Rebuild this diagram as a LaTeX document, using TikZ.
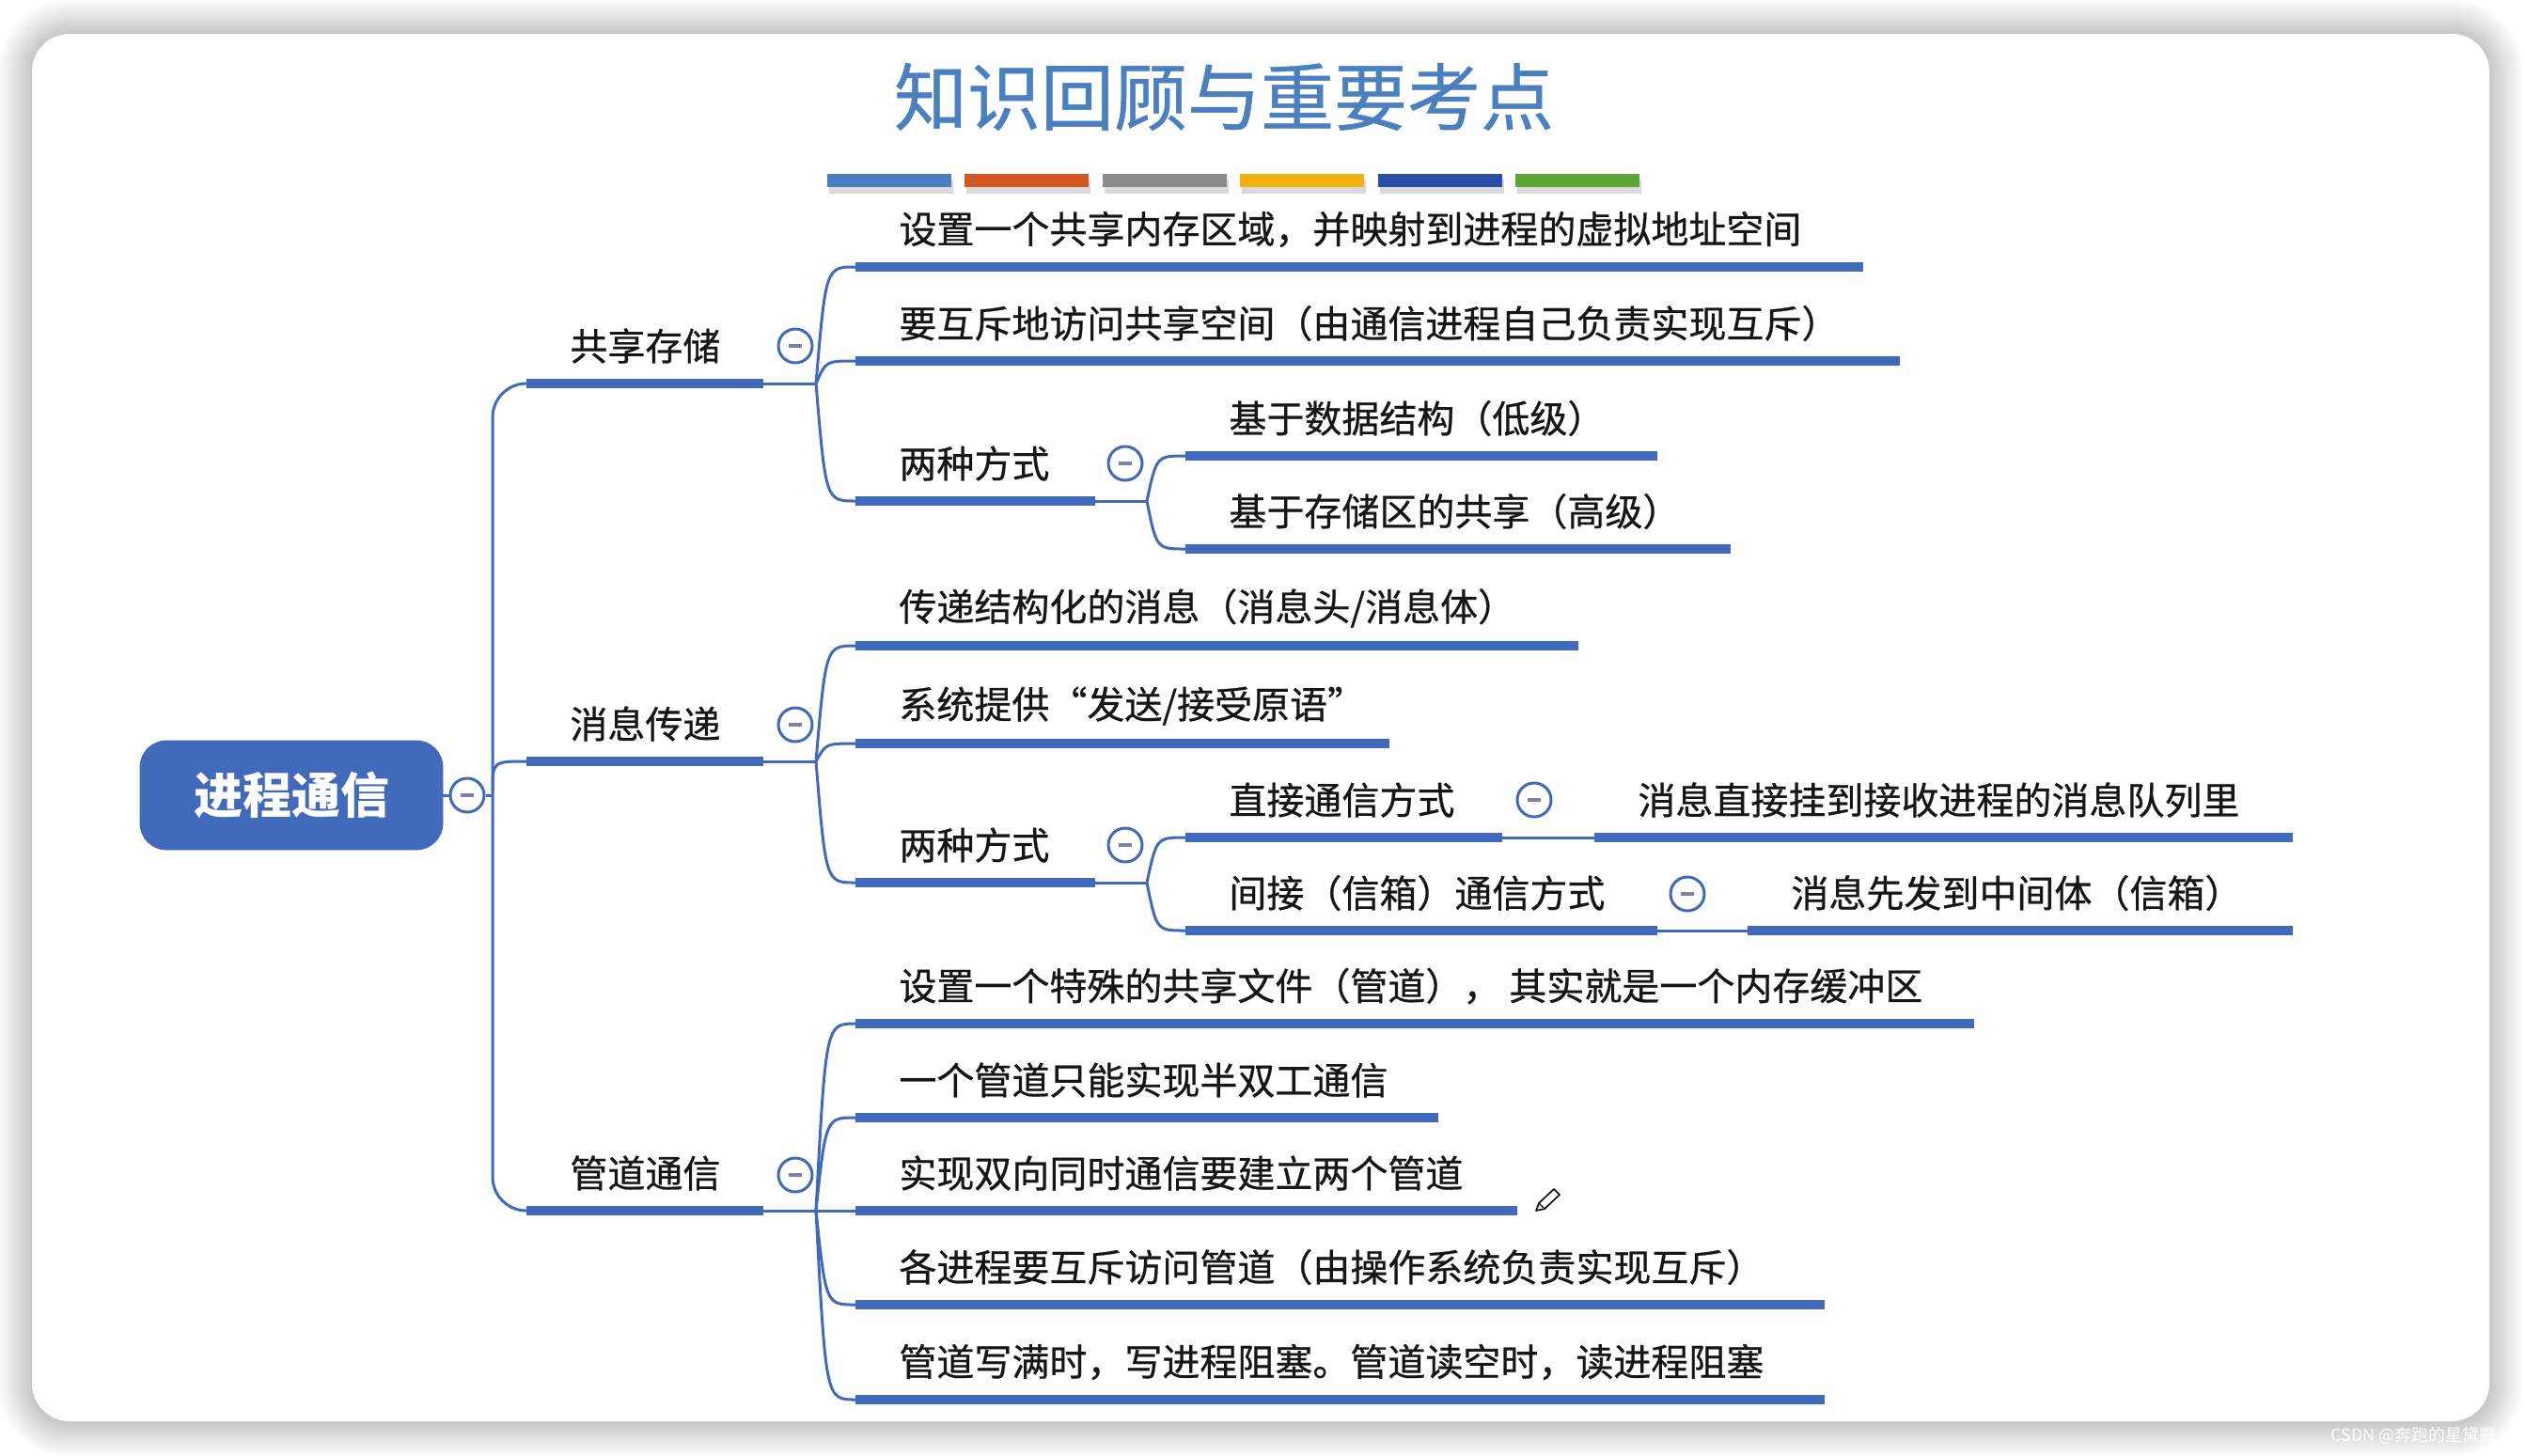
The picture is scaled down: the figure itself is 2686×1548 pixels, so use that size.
\documentclass[tikz,border=0pt]{standalone}
\usepackage{fontspec}
\newfontfamily\cjk{Noto Sans CJK SC}
\newfontfamily\cjkm{Noto Sans CJK SC}[FakeBold=0.6]
\usetikzlibrary{calc}
\definecolor{mb}{RGB}{66,106,186}
\definecolor{ttl}{RGB}{74,127,192}
\definecolor{txt}{RGB}{22,22,22}
\definecolor{minuscol}{RGB}{128,128,165}
\definecolor{cbA}{RGB}{74,126,193}
\definecolor{cbB}{RGB}{214,86,31}
\definecolor{cbC}{RGB}{140,140,140}
\definecolor{cbD}{RGB}{242,177,15}
\definecolor{cbE}{RGB}{44,78,166}
\definecolor{cbF}{RGB}{91,167,53}
\tikzset{
  lbl/.style={anchor=west, inner sep=0pt, text=txt, font=\cjkm\fontsize{20}{24}\selectfont},
  uline/.style={draw=mb, line width=5pt, line cap=butt},
  conn/.style={draw=mb, line width=1.5pt},
  foldc/.style={circle, draw=mb, line width=1.5pt, fill=white, minimum size=18pt, inner sep=0pt,
    path picture={\draw[minuscol, line width=2pt] ([xshift=-3.5pt]path picture bounding box.center) -- ([xshift=3.5pt]path picture bounding box.center);}},
  rootbox/.style={rectangle, rounded corners=14pt, fill=mb, draw=mb, minimum width=161pt, minimum height=58pt,
    text=white, font=\cjk\bfseries\fontsize{26}{30}\selectfont, inner sep=0pt}
}
% leaf: name, x start, x end, y, text
\newcommand\mmleaf[5]{%
  \coordinate (#1s) at (#2,#4); \coordinate (#1e) at (#3,#4);
  \node[lbl] (#1) at ($(#1s)+(46,-40)$) {#5};
  \draw[uline] (#1s) -- (#1e);}
% fan curve from origin to a leaf start
\newcommand\mmfan[2]{\draw[conn] (#1) .. controls ($(#1 |- #2)!0.25!(#2)$) .. (#2);}
\begin{document}
\begin{tikzpicture}[x=0.5pt,y=-0.5pt]
\useasboundingbox (0,0) rectangle (2686,1548);
\fill[white] (0,0) rectangle (2686,1548);
% card shadow
\foreach \i in {1,...,18} {
  \pgfmathsetmacro\rc{20+\i}
  \fill[black, opacity=0.01, rounded corners=\rc pt] ({34-2*\i},{36-2*\i}) rectangle ({2648+2*\i},{1514+2*\i});
}
\fill[white, rounded corners=20pt] (34,36) rectangle (2648,1512);

% title
\node[font=\cjkm\fontsize{39}{44}\selectfont, text=ttl, inner sep=0pt] (title) at (1302,103) {知识回顾与重要考点};
\foreach \c [count=\k from 0] in {cbA,cbB,cbC,cbD,cbE,cbF} {
  \pgfmathsetmacro\bx{880+146.4*\k}
  \fill[black, opacity=0.15] (\bx+2,191) rectangle (\bx+134,206);
  \fill[\c] (\bx,185) rectangle (\bx+132,199);
}

% root
\node[rootbox] (root) at (310,846) {进程通信};
\node[foldc] (f0) at (497,846) {};
\coordinate (J) at (524,846);
\draw[conn] (root.east) -- (f0.west);
\draw[conn] (f0.east) -- (J);

% level 1
\mmleaf{A1}{560}{812}{408}{共享存储}
\mmleaf{A2}{560}{812}{810}{消息传递}
\mmleaf{A3}{560}{812}{1288}{管道通信}
\draw[conn, rounded corners=18pt] (A1s) -- (A1s -| J) -- (A3s -| J) -- (A3s);
\draw[conn] ($(J)+(0,-4)$) .. controls (J |- A2s) .. (A2s);
\coordinate (A1o) at (868,408);
\coordinate (A2o) at (868,810);
\coordinate (A3o) at (868,1288);
\draw[conn] (A1e) -- (A1o);
\draw[conn] (A2e) -- (A2o);
\draw[conn] (A3e) -- (A3o);
\node[foldc] (fA1) at (846,368) {};
\node[foldc] (fA2) at (846,771) {};
\node[foldc] (fA3) at (846,1250) {};

% shared storage
\mmleaf{B1}{910}{1982}{284}{设置一个共享内存区域，并映射到进程的虚拟地址空间}
\mmleaf{B2}{910}{2021}{384}{要互斥地访问共享空间（由通信进程自己负责实现互斥）}
\mmleaf{B3}{910}{1165}{533}{两种方式}
\mmfan{A1o}{B1s}\mmfan{A1o}{B2s}\mmfan{A1o}{B3s}
\node[foldc] (fB3) at (1197,493) {};
\coordinate (B3o) at (1220,533);
\draw[conn] (B3e) -- (B3o);
\mmleaf{C1}{1261}{1763}{485}{基于数据结构（低级）}
\mmleaf{C2}{1261}{1841}{584}{基于存储区的共享（高级）}
\mmfan{B3o}{C1s}\mmfan{B3o}{C2s}

% message passing
\mmleaf{D1}{910}{1679}{687}{传递结构化的消息（消息头/消息体）}
\mmleaf{D2}{910}{1478}{791}{系统提供“发送/接受原语”}
\mmleaf{D3}{910}{1165}{939}{两种方式}
\mmfan{A2o}{D1s}\mmfan{A2o}{D2s}\mmfan{A2o}{D3s}
\node[foldc] (fD3) at (1197,899) {};
\coordinate (D3o) at (1220,939);
\draw[conn] (D3e) -- (D3o);
\mmleaf{E1}{1261}{1598}{891}{直接通信方式}
\mmleaf{E2}{1261}{1763}{990}{间接（信箱）通信方式}
\mmfan{D3o}{E1s}\mmfan{D3o}{E2s}
\node[foldc] (fE1) at (1632,851) {};
\node[foldc] (fE2) at (1795,951) {};
\mmleaf{F1}{1696}{2439}{891}{消息直接挂到接收进程的消息队列里}
\mmleaf{F2}{1859}{2439}{990}{消息先发到中间体（信箱）}
\draw[conn] (E1e) -- (F1s);
\draw[conn] (E2e) -- (F2s);

% pipe
\mmleaf{G1}{910}{2100}{1089}{设置一个特殊的共享文件（管道）， 其实就是一个内存缓冲区}
\mmleaf{G2}{910}{1530}{1189}{一个管道只能实现半双工通信}
\mmleaf{G3}{910}{1614}{1288}{实现双向同时通信要建立两个管道}
\mmleaf{G4}{910}{1941}{1388}{各进程要互斥访问管道（由操作系统负责实现互斥）}
\mmleaf{G5}{910}{1941}{1489}{管道写满时，写进程阻塞。管道读空时，读进程阻塞}
\mmfan{A3o}{G1s}\mmfan{A3o}{G2s}\mmfan{A3o}{G3s}\mmfan{A3o}{G4s}\mmfan{A3o}{G5s}

% pencil cursor
\draw[black, line width=0.8pt, fill=white, line join=round]
  (1634,1288) -- (1643,1286) -- (1659,1271) -- (1653,1265) -- (1637,1280) -- cycle;
\draw[black, line width=0.6pt] (1637,1280) -- (1643,1286);

% watermark
\node[anchor=west, inner sep=0pt, text=white, font=\cjk\fontsize{9}{10}\selectfont] (wm) at (2479,1527) {CSDN @奔跑的星黛露};
\end{tikzpicture}
\end{document}
